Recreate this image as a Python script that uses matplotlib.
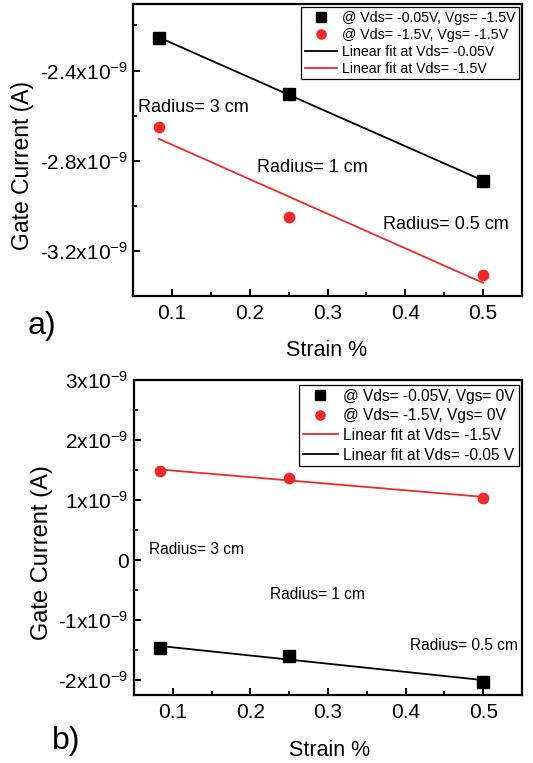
import matplotlib
matplotlib.use("Agg")
import matplotlib.pyplot as plt
import numpy as np
from matplotlib.ticker import MultipleLocator, FixedLocator, FixedFormatter

# ---- data (gate current in A vs strain %) ----
strain = [0.083, 0.25, 0.5]
radius_labels = ["Radius= 3 cm", "Radius= 1 cm", "Radius= 0.5 cm"]

# panel a: Vgs = -1.5 V
a_vds005 = [-2.254e-9, -2.505e-9, -2.889e-9]
a_vds15 = [-2.649e-9, -3.048e-9, -3.306e-9]
a_legend = ["@ Vds= -0.05V, Vgs= -1.5V", "@ Vds= -1.5V, Vgs= -1.5V",
            "Linear fit at Vds= -0.05V", "Linear fit at Vds= -1.5V"]
a_yticks = [-2.4e-9, -2.8e-9, -3.2e-9]
a_yticklabels = ["-2.4x10$^{-9}$", "-2.8x10$^{-9}$", "-3.2x10$^{-9}$"]

# panel b: Vgs = 0 V
b_vds005 = [-1.472e-9, -1.594e-9, -2.028e-9]
b_vds15 = [1.488e-9, 1.361e-9, 1.038e-9]
b_legend = ["@ Vds= -0.05V, Vgs= 0V", "@ Vds= -1.5V, Vgs= 0V",
            "Linear fit at Vds= -1.5V", "Linear fit at Vds= -0.05 V"]
b_yticks = [3e-9, 2e-9, 1e-9, 0, -1e-9, -2e-9]
b_yticklabels = ["3x10$^{-9}$", "2x10$^{-9}$", "1x10$^{-9}$", "0",
                 "-1x10$^{-9}$", "-2x10$^{-9}$"]

xticks = [0.1, 0.2, 0.3, 0.4, 0.5]

RED = "#ee2b2b"
plt.rcParams.update({
    "font.family": ["Liberation Sans", "DejaVu Sans"],
    "mathtext.default": "regular",
    "axes.linewidth": 1.6,
})

W, H = 533, 763
fig = plt.figure(figsize=(W / 100, H / 100), dpi=100, facecolor="white")


def px_axes(left, top, right, bottom):
    return fig.add_axes([left / W, 1 - bottom / H, (right - left) / W, (bottom - top) / H])


def fit(x, y):
    k, b = np.polyfit(x, y, 1)
    xs = np.array([x[0], x[-1]])
    return xs, k * xs + b


def style(ax, ylim, yticks, ylabels, yminor):
    ax.set_xlim(0.05, 0.55)
    ax.set_ylim(*ylim)
    ax.xaxis.set_major_locator(FixedLocator(xticks))
    ax.xaxis.set_minor_locator(MultipleLocator(0.05))
    ax.yaxis.set_major_locator(FixedLocator(yticks))
    ax.yaxis.set_major_formatter(FixedFormatter(ylabels))
    ax.yaxis.set_minor_locator(MultipleLocator(yminor))
    ax.tick_params(which="both", direction="in", top=False, right=False, width=1.4)
    ax.tick_params(which="major", length=5, labelsize=15)
    ax.tick_params(axis="y", which="major", pad=4)
    ax.tick_params(axis="x", which="major", pad=6)
    ax.tick_params(which="minor", length=3)


# ---- panel a ----
ax1 = px_axes(133, 4, 522, 296)
ax1.plot(strain, a_vds005, "s", color="black", ms=8, label=a_legend[0], zorder=3)
ax1.plot(strain, a_vds15, "o", color=RED, ms=8.5, mec="none", label=a_legend[1], zorder=3)
xs, ys = fit(strain, a_vds005)
ax1.plot(xs, ys, color="black", lw=1.3, label=a_legend[2])
xs, ys = fit(strain, a_vds15)
ax1.plot(xs, ys, color=RED, lw=1.3, label=a_legend[3])
style(ax1, (-3.4e-9, -2.105e-9), a_yticks, a_yticklabels, 0.2e-9)
ax1.text(0.057, -2.565e-9, radius_labels[0], fontsize=13, va="center")
ax1.text(0.209, -2.83e-9, radius_labels[1], fontsize=13, va="center")
ax1.text(0.371, -3.085e-9, radius_labels[2], fontsize=13, va="center")
leg = ax1.legend(loc="upper right", bbox_to_anchor=(0.995, 0.993), fontsize=10.2,
                 frameon=True, fancybox=False, edgecolor="black", framealpha=1,
                 handlelength=2.3, handletextpad=0.3, labelspacing=0.2,
                 borderpad=0.25, borderaxespad=0.1, markerscale=0.9)
leg.get_frame().set_linewidth(0.9)

fig.text(23 / W, 1 - 165 / H, "Gate Current (A)", rotation=90, fontsize=16.5,
         ha="center", va="center")
fig.text(327 / W, 1 - 350 / H, "Strain %", fontsize=15.5, ha="center", va="center")
fig.text(28 / W, 1 - 326 / H, "a)", fontsize=23, ha="left", va="center")

# ---- panel b ----
ax2 = px_axes(134, 380, 522, 695)
ax2.plot(strain, b_vds005, "s", color="black", ms=8, label=b_legend[0], zorder=3)
ax2.plot(strain, b_vds15, "o", color=RED, ms=8.5, mec="none", label=b_legend[1], zorder=3)
xs, ys = fit(strain, b_vds15)
ax2.plot(xs, ys, color=RED, lw=1.3, label=b_legend[2])
xs, ys = fit(strain, b_vds005)
ax2.plot(xs, ys, color="black", lw=1.3, label=b_legend[3])
style(ax2, (-2.25e-9, 3e-9), b_yticks, b_yticklabels, 0.5e-9)
ax2.text(0.069, 0.17e-9, radius_labels[0], fontsize=11.2, va="center")
ax2.text(0.225, -0.57e-9, radius_labels[1], fontsize=11.2, va="center")
ax2.text(0.406, -1.42e-9, radius_labels[2], fontsize=11.2, va="center")
leg = ax2.legend(loc="upper right", bbox_to_anchor=(0.995, 0.99), fontsize=11.2,
                 frameon=True, fancybox=False, edgecolor="black", framealpha=1,
                 handlelength=2.3, handletextpad=0.3, labelspacing=0.3,
                 borderpad=0.25, borderaxespad=0.1, markerscale=0.9)
leg.get_frame().set_linewidth(0.9)

fig.text(42 / W, 1 - 553 / H, "Gate Current (A)", rotation=90, fontsize=17,
         ha="center", va="center")
fig.text(330 / W, 1 - 750 / H, "Strain %", fontsize=15.5, ha="center", va="center")
fig.text(52 / W, 1 - 741 / H, "b)", fontsize=23, ha="left", va="center")

fig.savefig("out.png", dpi=100, facecolor="white")
